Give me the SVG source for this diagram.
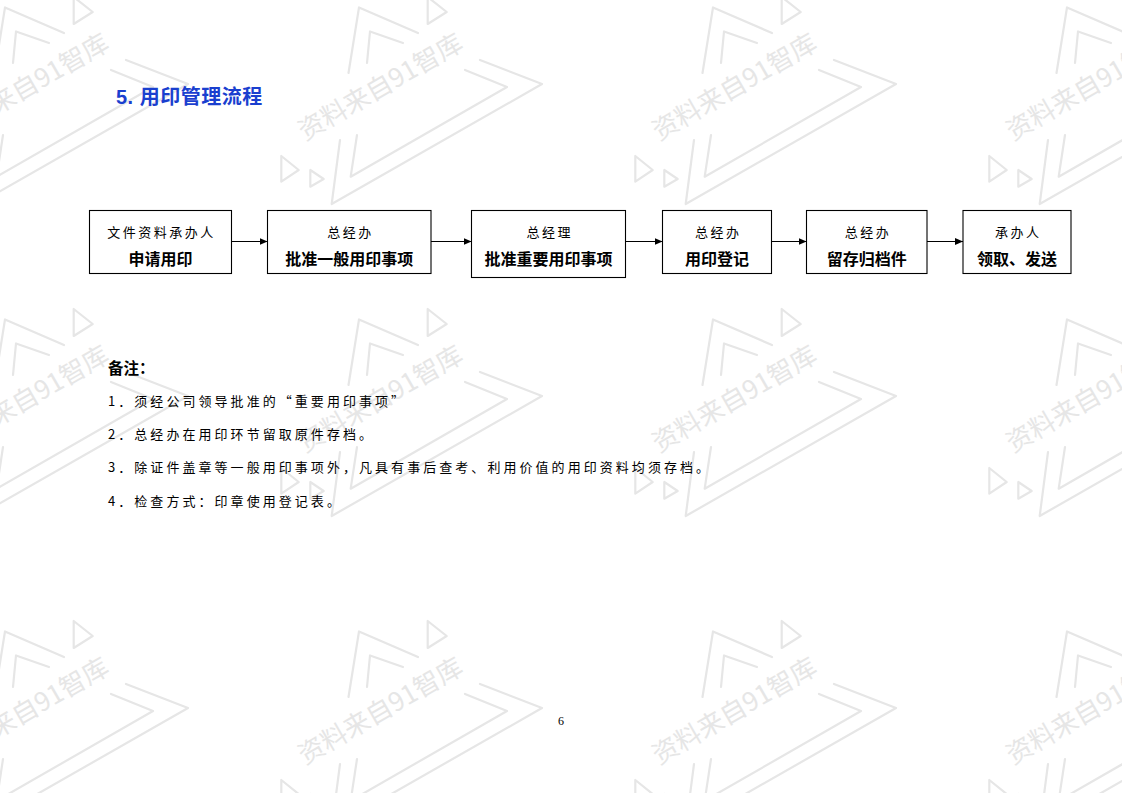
<svg xmlns="http://www.w3.org/2000/svg" xmlns:xlink="http://www.w3.org/1999/xlink" width="1122" height="793" viewBox="0 0 1122 793">
<style>
.wl{fill:none;stroke:#e6e6e6;stroke-width:2.2;stroke-linecap:round;stroke-linejoin:round}
.wt{font-family:"Noto Sans CJK SC","Noto Sans",sans-serif;font-size:26px;fill:#e6e6e6}
.box{fill:#fff;stroke:#000;stroke-width:1.1}
.t1{font-family:"Noto Sans CJK SC",sans-serif;font-size:13px;letter-spacing:2.5px;text-anchor:middle;fill:#000}
.t2{font-family:"Noto Sans CJK SC",sans-serif;font-size:16px;font-weight:bold;text-anchor:middle;fill:#000}
.note{font-family:"Noto Sans CJK SC",sans-serif;font-size:13px;letter-spacing:3.05px;fill:#000}
.conn{stroke:#000;stroke-width:1.1;fill:none}
</style>
<defs>
<marker id="ah" markerUnits="userSpaceOnUse" markerWidth="9" markerHeight="8" refX="8" refY="4" orient="auto">
<path d="M0,0.5 L8,4 L0,7.5 z" fill="#000"/>
</marker>
<g id="wm">
<polyline class="wl" points="772,345 713,319.5 702.5,385"/>
<polyline class="wl" points="757,355 724,343.5 721,375"/>
<polyline class="wl" points="834,372 896,396 685.7,516 694,452"/>
<polyline class="wl" points="819,382 861,399 704.7,488.7 711,447"/>
<polygon class="wl" points="781.7,309 781.7,336 800.7,324"/>
<polygon class="wl" points="635.3,468 635.3,493.7 652.7,482"/>
<polygon class="wl" points="664.3,482 664.3,498.7 677.7,491"/>
<text class="wt" x="659" y="453" transform="rotate(-30 659 453)">资料来自91智库</text>
</g>
</defs>
<rect width="1122" height="793" fill="#fff"/>
<g id="watermark">
<use xlink:href="#wm" x="-708" y="-312"/>
<use xlink:href="#wm" x="-354" y="-312"/>
<use xlink:href="#wm" x="0" y="-312"/>
<use xlink:href="#wm" x="354" y="-312"/>
<use xlink:href="#wm" x="-708" y="0"/>
<use xlink:href="#wm" x="-354" y="0"/>
<use xlink:href="#wm" x="0" y="0"/>
<use xlink:href="#wm" x="354" y="0"/>
<use xlink:href="#wm" x="-708" y="312"/>
<use xlink:href="#wm" x="-354" y="312"/>
<use xlink:href="#wm" x="0" y="312"/>
<use xlink:href="#wm" x="354" y="312"/>
</g>
<text id="title" x="116" y="104" font-family="'Liberation Sans','Noto Sans CJK SC',sans-serif" font-size="20" font-weight="bold" fill="#1a3fcf" letter-spacing="0.5">5. 用印管理流程</text>
<g id="connectors">
<line class="conn" x1="231.5" y1="241.5" x2="267.5" y2="241.5" marker-end="url(#ah)"/>
<line class="conn" x1="431" y1="241.5" x2="471.5" y2="241.5" marker-end="url(#ah)"/>
<line class="conn" x1="625.5" y1="241.5" x2="662.5" y2="241.5" marker-end="url(#ah)"/>
<line class="conn" x1="771.5" y1="241.5" x2="806.5" y2="241.5" marker-end="url(#ah)"/>
<line class="conn" x1="927" y1="241.5" x2="963" y2="241.5" marker-end="url(#ah)"/>
</g>
<g id="n1">
<rect class="box" x="89.5" y="210.5" width="142" height="63"/>
<text class="t1" x="161.5" y="237">文件资料承办人</text>
<text class="t2" x="160.5" y="265">申请用印</text>
</g>
<g id="n2">
<rect class="box" x="267.5" y="210.5" width="163.5" height="63"/>
<text class="t1" x="350.5" y="237">总经办</text>
<text class="t2" x="349.3" y="265">批准一般用印事项</text>
</g>
<g id="n3">
<rect class="box" x="471.5" y="210.5" width="154" height="67"/>
<text class="t1" x="549.7" y="237">总经理</text>
<text class="t2" x="548.5" y="265">批准重要用印事项</text>
</g>
<g id="n4">
<rect class="box" x="662.5" y="210.5" width="109" height="63"/>
<text class="t1" x="718.2" y="237">总经办</text>
<text class="t2" x="717" y="265">用印登记</text>
</g>
<g id="n5">
<rect class="box" x="806.5" y="210.5" width="120.5" height="63"/>
<text class="t1" x="868" y="237">总经办</text>
<text class="t2" x="866.8" y="265">留存归档件</text>
</g>
<g id="n6">
<rect class="box" x="963" y="210.5" width="108" height="63"/>
<text class="t1" x="1018.2" y="237">承办人</text>
<text class="t2" x="1017" y="265">领取、发送</text>
</g>
<g id="notes">
<text x="108" y="374" font-family="'Noto Sans CJK SC',sans-serif" font-size="15.5" font-weight="bold">备注：</text>
<text class="note" x="108" y="406">1．须经公司领导批准的“重要用印事项”</text>
<text class="note" x="108" y="439">2．总经办在用印环节留取原件存档。</text>
<text class="note" x="108" y="472">3．除证件盖章等一般用印事项外，凡具有事后查考、利用价值的用印资料均须存档。</text>
<text class="note" x="108" y="505.5">4．检查方式：印章使用登记表。</text>
</g>
<text id="page" x="561" y="725" font-family="'Liberation Serif',serif" font-size="12" text-anchor="middle">6</text>
</svg>
